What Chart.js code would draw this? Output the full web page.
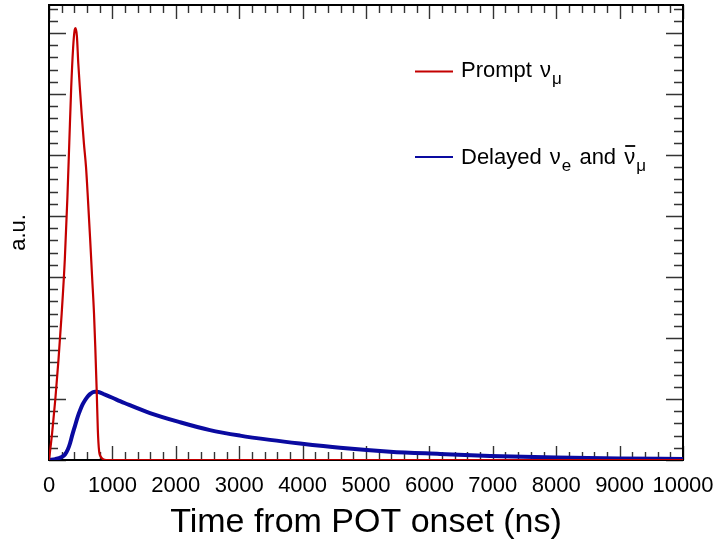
<!DOCTYPE html>
<html>
<head>
<meta charset="utf-8">
<script src="https://cdn.jsdelivr.net/npm/chart.js@4.4.1/dist/chart.umd.min.js"></script>
<style>
  html, body { margin: 0; padding: 0; background: #fff; }
  #wrap { width: 714px; height: 543px; }
</style>
</head>
<body>
<div id="wrap"><canvas id="c" width="714" height="543"></canvas></div>
<script>
// ---- data ----
const promptTimes  = [0, 50, 100, 150, 200, 250, 290, 320, 350, 380, 405, 418, 440, 462, 490, 516, 550, 584, 615, 650, 680, 710, 730, 752, 770, 790, 820, 860, 900, 10000];
const promptValues = [0, 0.45, 1.0, 1.65, 2.4, 3.3, 4.3, 5.2, 6.1, 6.75, 7.05, 7.08, 6.95, 6.5, 6.05, 5.66, 5.2, 4.8, 4.26, 3.6, 3.0, 2.4, 1.85, 1.15, 0.5, 0.15, 0.05, 0.01, 0, 0];

const delayedTimes  = [0, 100, 200, 252, 300, 331, 370, 410, 450, 489, 530, 568, 610, 647, 690, 726, 760, 883, 1000, 1120, 1200, 1593, 2066, 2539, 3013, 3486, 3959, 4590, 5379, 6167, 6956, 8000, 9000, 10000];
const delayedValues = [0, 0.015, 0.05, 0.09, 0.18, 0.27, 0.42, 0.56, 0.70, 0.81, 0.91, 0.98, 1.04, 1.08, 1.11, 1.12, 1.12, 1.07, 1.02, 0.965, 0.93, 0.77, 0.62, 0.49, 0.40, 0.33, 0.27, 0.20, 0.137, 0.10, 0.066, 0.04, 0.025, 0.016];

const xTickValues = [0, 1000, 2000, 3000, 4000, 5000, 6000, 7000, 8000, 9000, 10000];
const seriesNames = ['Prompt', 'Delayed'];
const xTitle = 'Time from POT onset (ns)';
const yTitle = 'a.u.';

const X_MIN = 0, X_MAX = 10000, X_MINOR = 200, X_MAJOR_EVERY = 5;
const Y_MIN = 0, Y_MAX = 7.459, Y_MINOR = 0.2, Y_MAJOR_EVERY = 5;

const FONT = "'Liberation Sans', Arial, Helvetica, sans-serif";
const RED = '#c40000';
const BLUE = '#0a0aa0';

function toPoints(ts, vs) { return ts.map((t, i) => ({ x: t, y: vs[i] })); }

const frameTicks = {
  id: 'frameTicks',
  beforeDatasetsDraw(chart) {
    const { ctx, chartArea, scales } = chart;
    const { left, right, top, bottom } = chartArea;
    const x = scales.x, y = scales.y;
    ctx.save();
    ctx.strokeStyle = '#333';
    ctx.lineWidth = 1.4;
    const nx = Math.round((X_MAX - X_MIN) / X_MINOR);
    for (let i = 0; i <= nx; i++) {
      const v = X_MIN + i * X_MINOR;
      const px = Math.round(x.getPixelForValue(v)) + 0.5;
      const len = (i % X_MAJOR_EVERY === 0) ? 14 : 8;
      ctx.beginPath();
      ctx.moveTo(px, bottom); ctx.lineTo(px, bottom - len);
      ctx.moveTo(px, top); ctx.lineTo(px, top + len);
      ctx.stroke();
    }
    for (let i = 0; Y_MIN + i * Y_MINOR <= Y_MAX + 1e-9; i++) {
      const v = Y_MIN + i * Y_MINOR;
      const py = Math.round(y.getPixelForValue(v)) + 0.5;
      const len = (i % Y_MAJOR_EVERY === 0) ? 17 : 9;
      ctx.beginPath();
      ctx.moveTo(left, py); ctx.lineTo(left + len, py);
      ctx.moveTo(right, py); ctx.lineTo(right - len, py);
      ctx.stroke();
    }
    ctx.strokeStyle = '#000';
    ctx.lineWidth = 2;
    ctx.strokeRect(left, top, right - left, bottom - top);
    ctx.restore();
  }
};

const customLegend = {
  id: 'customLegend',
  afterDraw(chart) {
    const ctx = chart.ctx;
    ctx.save();
    const big = "22px " + FONT;
    const small = "17px " + FONT;
    ctx.textBaseline = 'alphabetic';
    ctx.textAlign = 'left';
    ctx.fillStyle = '#000';

    function piece(text, font, x, yb) {
      ctx.font = font;
      ctx.fillText(text, x, yb);
      return x + ctx.measureText(text).width;
    }

    // entry 1
    ctx.strokeStyle = RED; ctx.lineWidth = 2;
    ctx.beginPath(); ctx.moveTo(415, 71.5); ctx.lineTo(453, 71.5); ctx.stroke();
    let xx = piece(seriesNames[0] + ' ', big, 461, 77);
    xx = piece('ν', big, xx + 2, 77);
    piece('μ', small, xx + 1, 84);

    // entry 2
    ctx.strokeStyle = BLUE; ctx.lineWidth = 2;
    ctx.beginPath(); ctx.moveTo(415, 157); ctx.lineTo(453, 157); ctx.stroke();
    xx = piece(seriesNames[1] + ' ', big, 461, 164);
    xx = piece('ν', big, xx + 2, 164);
    xx = piece('e', small, xx + 1, 171);
    xx = piece(' and ', big, xx + 2, 164);
    ctx.font = big;
    const nuW = ctx.measureText('ν').width;
    const nuX = xx + 2;
    xx = piece('ν', big, nuX, 164);
    ctx.strokeStyle = '#000'; ctx.lineWidth = 1.8;
    ctx.beginPath(); ctx.moveTo(nuX + 1, 146); ctx.lineTo(nuX + nuW, 146); ctx.stroke();
    piece('μ', small, xx + 1, 171);
    ctx.restore();
  }
};

const chart = new Chart(document.getElementById('c'), {
  type: 'line',
  data: {
    datasets: [
      {
        label: seriesNames[0],
        data: toPoints(promptTimes, promptValues),
        borderColor: RED,
        borderWidth: 2.2,
        pointRadius: 0,
        fill: false,
        cubicInterpolationMode: 'monotone'
      },
      {
        label: seriesNames[1],
        data: toPoints(delayedTimes, delayedValues),
        borderColor: BLUE,
        borderWidth: 4,
        pointRadius: 0,
        fill: false,
        cubicInterpolationMode: 'monotone'
      }
    ]
  },
  options: {
    responsive: false,
    devicePixelRatio: 1,
    animation: false,
    layout: { padding: { top: 5, right: 31, left: 0, bottom: 0 } },
    plugins: { legend: { display: false }, tooltip: { enabled: false } },
    scales: {
      x: {
        type: 'linear',
        min: X_MIN, max: X_MAX,
        afterBuildTicks: (s) => { s.ticks = xTickValues.map(v => ({ value: v })); },
        afterFit: (s) => { s.height = 83; s.paddingLeft = 0; s.paddingRight = 0; },
        grid: { display: false, drawTicks: false },
        border: { display: false },
        ticks: {
          autoSkip: false, maxRotation: 0, minRotation: 0,
          padding: 13, color: '#000',
          font: { family: FONT, size: 22 },
          callback: (v) => String(v)
        },
        title: {
          display: true, text: xTitle, color: '#000',
          font: { family: FONT, size: 34 },
          padding: { top: 0, bottom: 0 }
        }
      },
      y: {
        type: 'linear',
        min: Y_MIN, max: Y_MAX,
        afterFit: (s) => { s.width = 49; },
        grid: { display: false, drawTicks: false },
        border: { display: false },
        ticks: { display: false },
        title: {
          display: true, text: yTitle, color: '#000',
          font: { family: FONT, size: 22 },
          padding: { top: 6, bottom: 0 }
        }
      }
    }
  },
  plugins: [frameTicks, customLegend]
});
</script>
</body>
</html>
